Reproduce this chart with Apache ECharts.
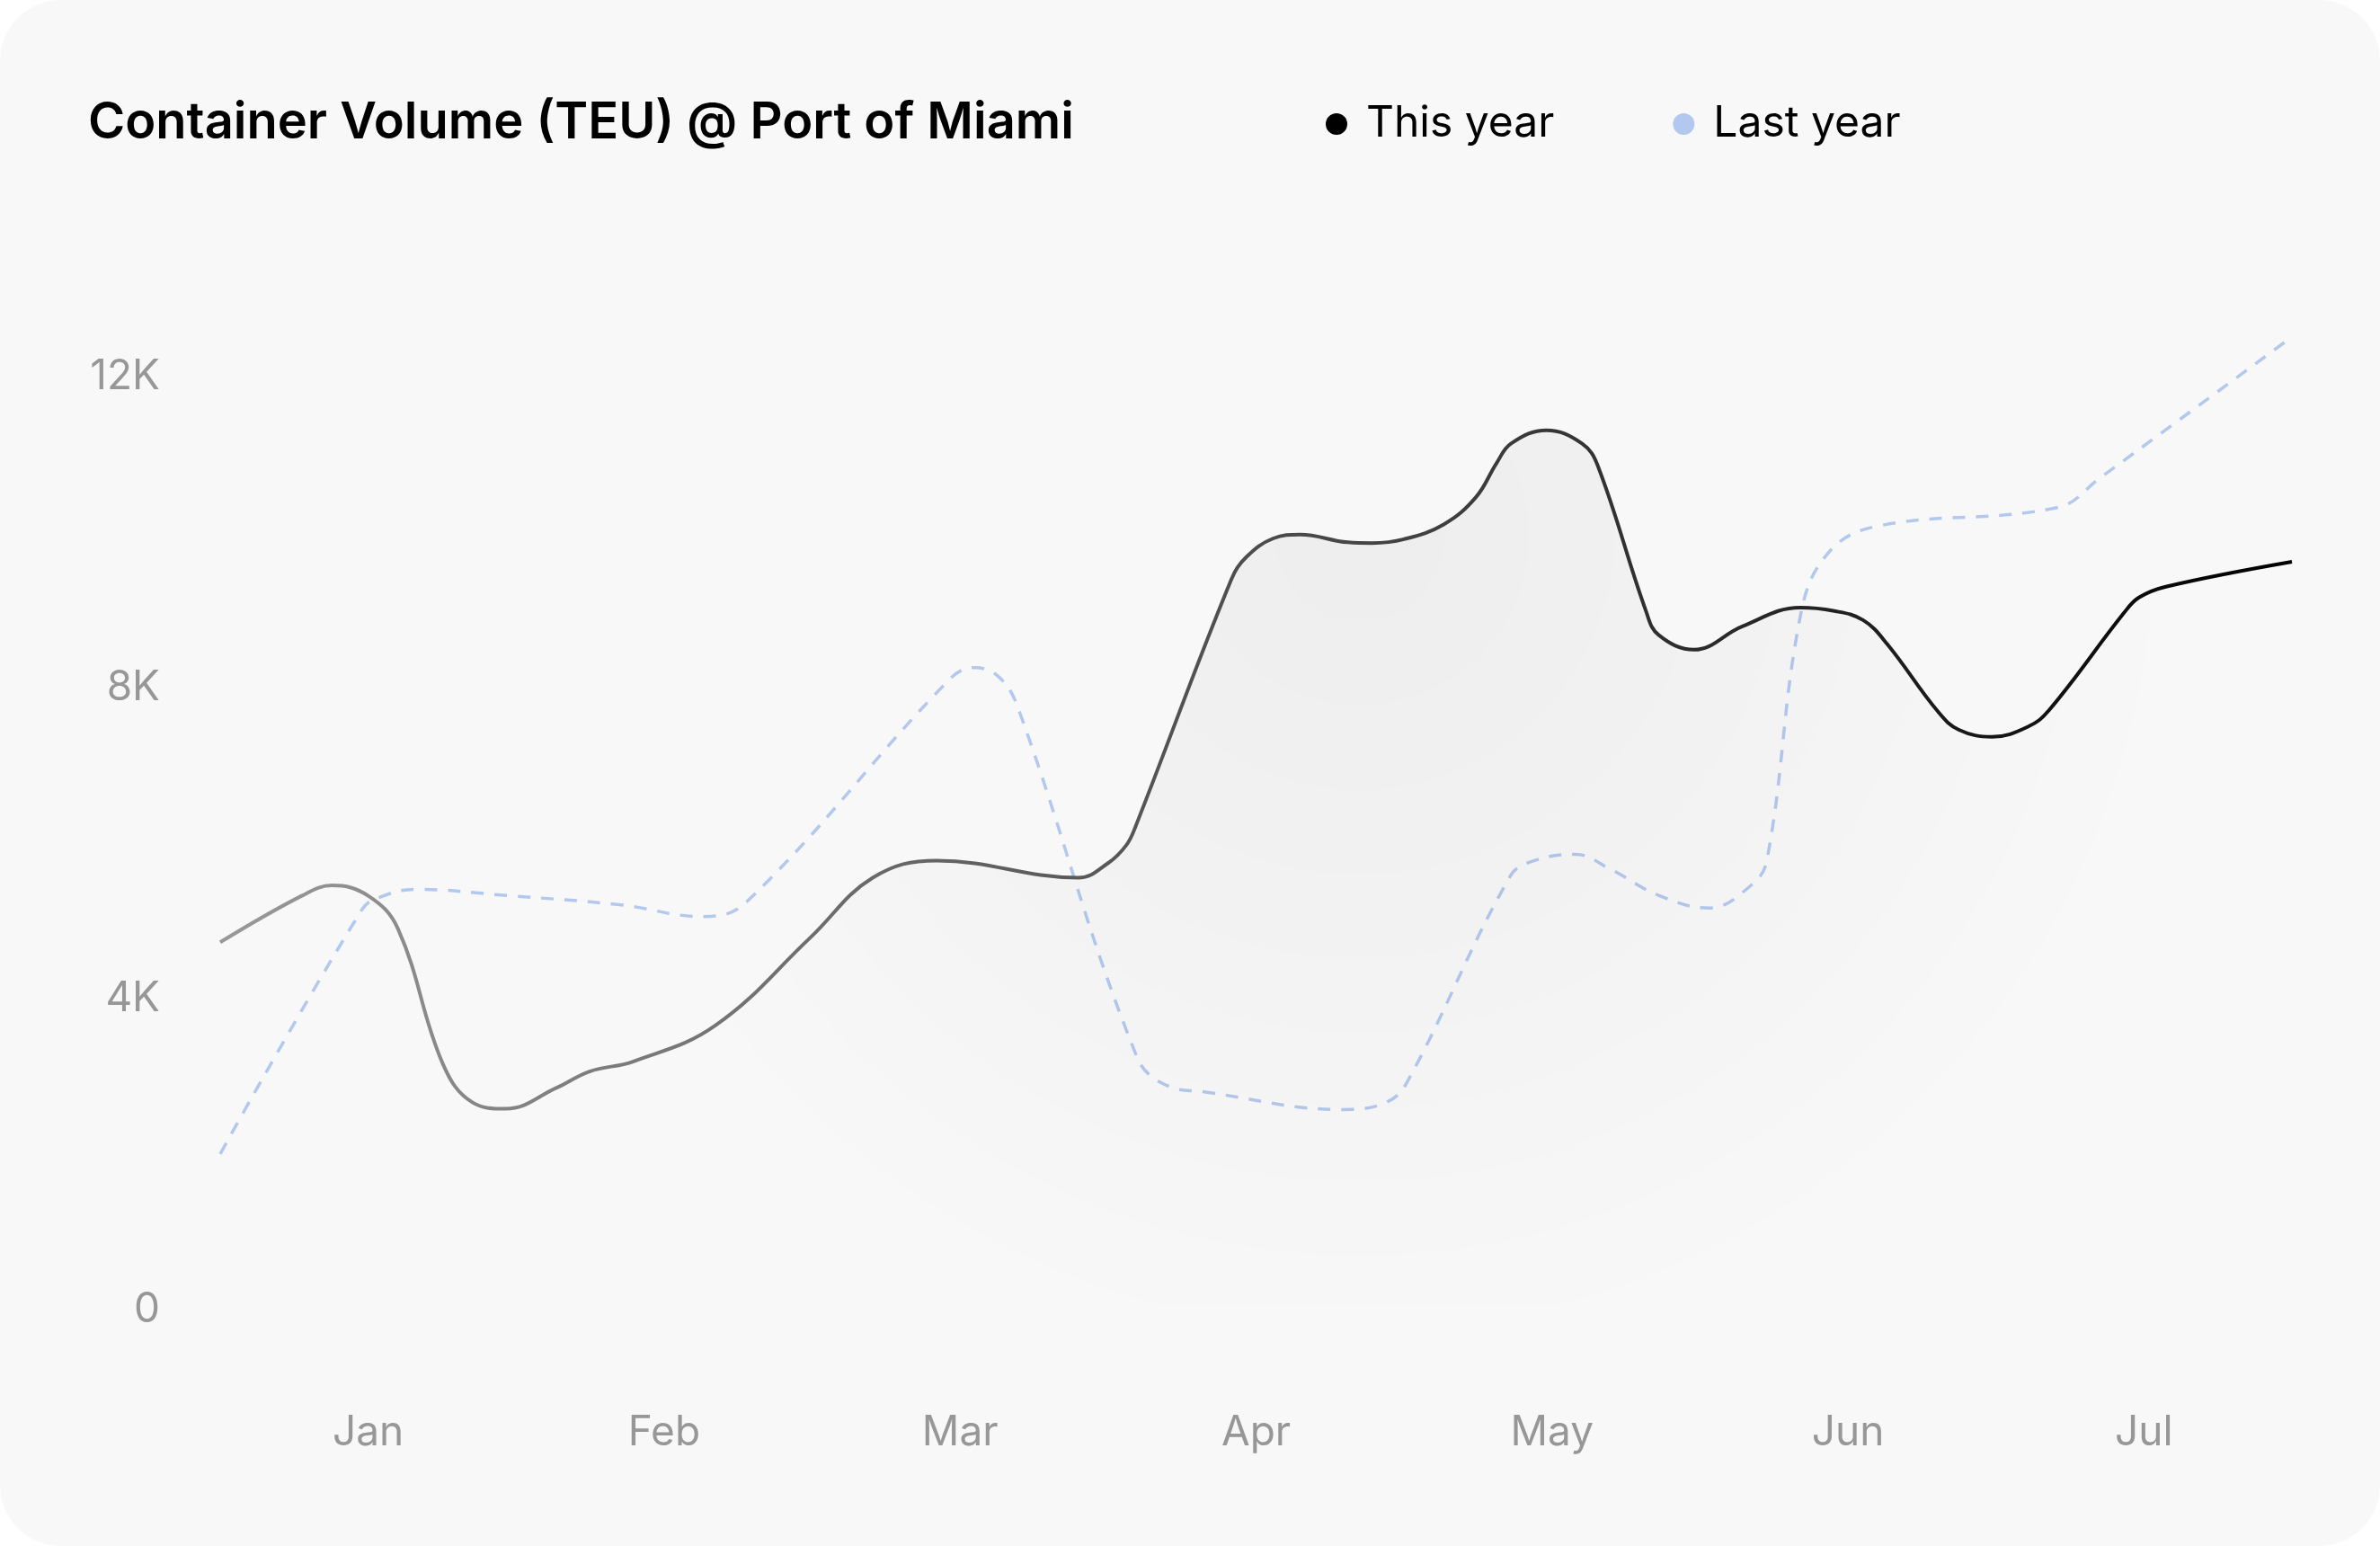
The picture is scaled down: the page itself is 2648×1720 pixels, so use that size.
<!DOCTYPE html>
<html>
<head>
<meta charset="utf-8">
<title>Container Volume (TEU) @ Port of Miami</title>
<script src="https://cdn.jsdelivr.net/npm/echarts@6/dist/echarts.min.js"></script>
<style>
  html, body { margin: 0; padding: 0; background: #ffffff; }
  #main {
    width: 2648px;
    height: 1720px;
    background: #f8f8f8;
    border-radius: 68px;
    overflow: hidden;
  }
</style>
</head>
<body>
<div id="main"></div>
<script>
// month labels, one slot each on the category axis
var months = ['Jan', 'Feb', 'Mar', 'Apr', 'May', 'Jun', 'Jul'];

// positions are in months from the start of Jan (0 = Jan 1, 7 = end of Jul), values in TEU
var thisYearPos = [0, 0.277, 0.378, 0.499, 0.601, 0.752, 0.853, 0.965, 1.137,
  1.248, 1.397, 1.673, 1.994, 2.205, 2.421, 2.9, 3.001, 3.062, 3.092,
  3.416, 3.467, 3.558, 3.649, 3.81, 3.892, 4.0, 4.134, 4.243, 4.313,
  4.362, 4.481, 4.601, 4.655, 4.818, 4.86, 4.98, 5.143, 5.338,
  5.45, 5.551, 5.633, 5.805, 5.875, 5.987, 6.108, 6.179, 6.432, 6.483,
  6.574, 7];
var thisYearTeu = [4670, 5270, 5400, 5270, 4840, 3110, 2610, 2530, 2800,
  3010, 3140, 3600, 4730, 5500, 5720, 5500, 5690, 5920, 6150,
  9330, 9620, 9860, 9910, 9810, 9800, 9850, 10040, 10390, 10830,
  11080, 11250, 11080, 10790, 8920, 8620, 8430, 8730, 8970,
  8930, 8810, 8500, 7630, 7400, 7310, 7440, 7650, 8900, 9100,
  9240, 9560];

var lastYearPos = [0, 0.479, 0.54, 0.661, 0.969, 1.354, 1.631, 1.779, 2.462, 2.549,
  2.631, 2.697, 3.097, 3.21, 3.318, 3.795, 3.938, 4.01, 4.359, 4.441,
  4.579, 4.692, 4.862, 5.031, 5.169, 5.226, 5.338, 5.426, 5.59, 6.21,
  6.349, 7];
var lastYearTeu = [1950, 5090, 5250, 5350, 5270, 5150, 5000, 5190, 8040, 8200,
  8080, 7670, 3200, 2810, 2750, 2520, 2610, 2870, 5520, 5720,
  5800, 5620, 5270, 5110, 5390, 5720, 8840, 9640, 10010, 10260,
  10630, 12450];

var yTicks = [0, 4000, 8000, 12000];
var yTickLabels = ['0', '4K', '8K', '12K'];

function pairs(xs, ys) {
  return xs.map(function (x, i) { return [x, ys[i]]; });
}

var chartDom = document.getElementById('main');
var myChart = echarts.init(chartDom, null, { renderer: 'canvas' });
var font = 'Inter, "Noto Sans", sans-serif';
var option;

option = {
  backgroundColor: 'transparent',
  animation: false,
  title: {
    text: 'Container Volume (TEU) @ Port of Miami',
    left: 98,
    top: 109,
    padding: 0,
    textStyle: {
      fontFamily: font,
      fontSize: 56,
      fontWeight: 600,
      color: '#000'
    }
  },
  legend: {
    left: 1475,
    top: 114,
    padding: 0,
    icon: 'circle',
    itemWidth: 24,
    itemHeight: 24,
    itemGap: 132,
    textStyle: {
      fontFamily: font,
      fontSize: 48,
      color: '#000',
      padding: [0, 0, 0, 16]
    },
    data: ['This year', 'Last year']
  },
  grid: {
    left: 245,
    right: 98,
    top: 240.6,
    bottom: 267.4
  },
  xAxis: [
    {
      type: 'category',
      data: months,
      boundaryGap: true,
      axisLine: { show: false },
      axisTick: { show: false },
      splitLine: { show: false },
      axisLabel: {
        margin: 119,
        fontFamily: font,
        fontSize: 46,
        color: '#979797'
      }
    },
    {
      type: 'value',
      min: 0,
      max: 7,
      show: false
    }
  ],
  yAxis: {
    type: 'value',
    min: 0,
    max: 14000,
    interval: 4000,
    axisLine: { show: false },
    axisTick: { show: false },
    splitLine: { show: false },
    axisLabel: {
      margin: 67,
      showMaxLabel: false,
      verticalAlign: 'top',
      lineHeight: 10,
      fontFamily: font,
      fontSize: 46,
      color: '#979797',
      formatter: function (v) {
        var i = yTicks.indexOf(v);
        return i >= 0 ? yTickLabels[i] : '';
      }
    }
  },
  series: [
    {
      name: 'This year',
      type: 'line',
      xAxisIndex: 1,
      data: pairs(thisYearPos, thisYearTeu),
      smooth: 0.4,
      showSymbol: false,
      z: 3,
      itemStyle: { color: '#000' },
      lineStyle: {
        width: 4,
        color: new echarts.graphic.LinearGradient(0, 0, 1, 0, [
          { offset: 0, color: '#999999' },
          { offset: 1, color: '#000000' }
        ])
      },
      areaStyle: {
        color: new echarts.graphic.RadialGradient(0.55, 0.12, 0.95, [
          { offset: 0, color: 'rgba(0,0,0,0.058)' },
          { offset: 0.5, color: 'rgba(0,0,0,0.03)' },
          { offset: 1, color: 'rgba(0,0,0,0)' }
        ])
      }
    },
    {
      name: 'Last year',
      type: 'line',
      xAxisIndex: 1,
      data: pairs(lastYearPos, lastYearTeu),
      smooth: 0.4,
      showSymbol: false,
      z: 2,
      itemStyle: { color: '#b3c8ee' },
      lineStyle: {
        width: 3.5,
        color: '#b3c8ee',
        type: [14, 12]
      }
    }
  ]
};

option && myChart.setOption(option);
</script>
</body>
</html>
